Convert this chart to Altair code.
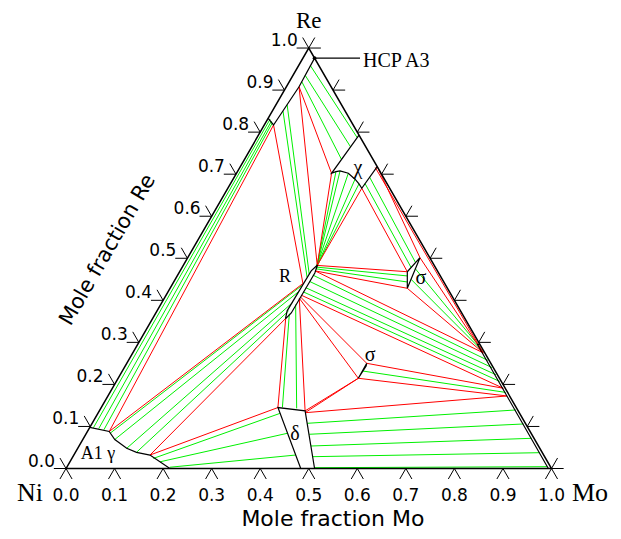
import altair as alt
import pandas as pd

# ---------------- data: mole fractions (Mo, Re) ----------------
axis_ticks = [0.0, 0.1, 0.2, 0.3, 0.4, 0.5, 0.6, 0.7, 0.8, 0.9, 1.0]
tick_text = ["0.0", "0.1", "0.2", "0.3", "0.4", "0.5", "0.6", "0.7", "0.8", "0.9", "1.0"]

triangle = [(0.0, 0.0), (1.0, 0.0), (0.0, 1.0), (0.0, 0.0)]

gamma_edge = [(0.0, 0.098), (0.045, 0.088), (0.066, 0.069), (0.101, 0.048),
              (0.126, 0.0385), (0.157, 0.032), (0.214, 0.0)]
hcp_edge = [(0.0, 0.833), (0.019, 0.817), (0.026, 0.908), (0.024, 0.976)]
r_phase = [(0.274, 0.356), (0.268, 0.375), (0.270, 0.470), (0.276, 0.484),
           (0.280, 0.465), (0.279, 0.370), (0.274, 0.356)]
chi_edge = [(0.207, 0.793), (0.196, 0.702), (0.203, 0.706), (0.2106, 0.7077),
            (0.2304, 0.7022), (0.2513, 0.688), (0.265, 0.677), (0.276, 0.6665),
            (0.282, 0.718)]
sigma_up = [(0.469, 0.468), (0.4887, 0.4286), (0.4784, 0.5014), (0.469, 0.468)]
sigma_low = [(0.4948, 0.2146), (0.4943, 0.2502), (0.4962, 0.244), (0.4948, 0.2146)]
delta_edge = [(0.4835, 0.0), (0.364, 0.145), (0.424, 0.137), (0.512, 0.0)]
bcc_edge = [(0.9935, 0.0), (0.700, 0.295), (0.705, 0.295)]
hcp_pointer = [(0.024, 0.976), (0.1176, 0.976)]

# three-phase triangle sides (Mo1, Re1, Mo2, Re2)
red_ties = [
    (0.045, 0.088, 0.019, 0.817), (0.019, 0.817, 0.268, 0.440), (0.045, 0.088, 0.268, 0.440),
    (0.157, 0.032, 0.274, 0.357), (0.157, 0.032, 0.364, 0.145), (0.274, 0.357, 0.364, 0.145),
    (0.278, 0.405, 0.424, 0.137), (0.424, 0.137, 0.4948, 0.2146), (0.278, 0.405, 0.4948, 0.2146),
    (0.279, 0.408, 0.4943, 0.2502), (0.279, 0.412, 0.8053, 0.1908), (0.4943, 0.2502, 0.8053, 0.1908),
    (0.4948, 0.2146, 0.822, 0.1725), (0.426, 0.1327, 0.822, 0.1725), (0.426, 0.1327, 0.4948, 0.2146),
    (0.278, 0.470, 0.722, 0.275), (0.278, 0.470, 0.4887, 0.4286), (0.276, 0.483, 0.469, 0.468),
    (0.4887, 0.4286, 0.722, 0.275), (0.276, 0.6665, 0.469, 0.468), (0.276, 0.6665, 0.276, 0.483),
    (0.196, 0.702, 0.276, 0.483), (0.026, 0.908, 0.196, 0.702), (0.026, 0.908, 0.276, 0.483),
    (0.282, 0.718, 0.4784, 0.5014), (0.4784, 0.5014, 0.722, 0.275), (0.279, 0.716, 0.720, 0.277),
]

# two-phase tie lines (Mo1, Re1, Mo2, Re2)
green_ties = [
    (0.008, 0.097, 0.005, 0.831), (0.020, 0.095, 0.010, 0.826), (0.032, 0.092, 0.014, 0.822),
    (0.049, 0.084, 0.268, 0.435), (0.066, 0.069, 0.2685, 0.420), (0.101, 0.048, 0.2695, 0.395),
    (0.126, 0.0385, 0.271, 0.375),
    (0.168, 0.024, 0.375, 0.131), (0.186, 0.016, 0.414, 0.0837), (0.2125, 0.003, 0.457, 0.032),
    (0.276, 0.368, 0.373, 0.1456), (0.278, 0.390, 0.4036, 0.143),
    (0.4433, 0.1075, 0.8566, 0.1392), (0.4604, 0.0814, 0.8893, 0.1059),
    (0.4778, 0.0535, 0.9229, 0.0718), (0.4941, 0.0281, 0.9565, 0.0376),
    (0.511, 0.0019, 0.9893, 0.0043),
    (0.4945, 0.232, 0.815, 0.181),
    (0.2785, 0.460, 0.7407, 0.257), (0.279, 0.445, 0.7574, 0.240),
    (0.279, 0.430, 0.7741, 0.223), (0.279, 0.420, 0.7899, 0.207),
    (0.2765, 0.479, 0.474, 0.458), (0.277, 0.475, 0.4812, 0.4436),
    (0.4857, 0.450, 0.716, 0.281), (0.4821, 0.475, 0.709, 0.288),
    (0.2769, 0.6779, 0.4713, 0.4786), (0.2784, 0.6934, 0.4749, 0.490),
    (0.203, 0.706, 0.2755, 0.4825), (0.2106, 0.7077, 0.276, 0.482),
    (0.2304, 0.7022, 0.276, 0.481), (0.2513, 0.688, 0.2765, 0.480),
    (0.265, 0.677, 0.2765, 0.479),
    (0.022, 0.850, 0.269, 0.455), (0.023, 0.865, 0.270, 0.462),
    (0.0257, 0.920, 0.200, 0.735), (0.0252, 0.935, 0.2036, 0.765),
    (0.0245, 0.958, 0.2063, 0.787),
]

# text labels (text, Mo, Re, font size)
serif_labels = [
    ("Ni", -0.045, -0.0583, 26), ("Mo", 1.1084, -0.0583, 26), ("Re", -0.0323, 1.0645, 23),
    ("R", 0.2233, 0.4555, 18), ("χ", 0.244, 0.7148, 20), ("σ", 0.5046, 0.4531, 20),
    ("σ", 0.4912, 0.270, 20), ("δ", 0.4307, 0.0821, 20), ("A1 γ", 0.0486, 0.0345, 18),
]
hcp_label = [("HCP A3", 0.127, 0.9693)]
title_mo = [("Mole fraction Mo", 0.6098, -0.1201)]
title_re = [("Mole fraction Re", -0.1734, 0.5197)]

# ---------------- build tables ----------------
TL = 0.025  # tick length in mole fraction units
rows = []


def add_poly(pid, pts, kind):
    for i, (m, r) in enumerate(pts):
        rows.append({"pid": pid, "ord": i, "Mo": m, "Re": r, "kind": kind})


add_poly("tri", triangle, "edge")
for name, pts in [("gamma", gamma_edge), ("hcp", hcp_edge), ("R", r_phase), ("chi", chi_edge),
                  ("sig1", sigma_up), ("sig2", sigma_low), ("delta", delta_edge),
                  ("bcc", bcc_edge), ("ptr", hcp_pointer)]:
    add_poly(name, pts, "black")
for i, (a, b, c, d) in enumerate(red_ties):
    add_poly(f"r{i}", [(a, b), (c, d)], "red")
for i, (a, b, c, d) in enumerate(green_ties):
    add_poly(f"g{i}", [(a, b), (c, d)], "green")
for v in axis_ticks:
    add_poly(f"tl{v}", [(-TL, v), (0.0, v), (-TL, v + TL)], "tick")
    add_poly(f"tb{v}", [(v, -TL), (v, 0.0), (v + TL, -TL)], "tick")
    add_poly(f"tr{v}", [(1 - v + TL, v), (1 - v, v), (1 - v, v + TL)], "tick")

lines = pd.DataFrame(rows)
ticks_df = pd.DataFrame({"v": axis_ticks, "lab": tick_text})
serif_df = pd.DataFrame(serif_labels, columns=["t", "Mo", "Re", "size"])
hcp_df = pd.DataFrame(hcp_label, columns=["t", "Mo", "Re"])
tmo_df = pd.DataFrame(title_mo, columns=["t", "Mo", "Re"])
tre_df = pd.DataFrame(title_re, columns=["t", "Mo", "Re"])
dot_df = pd.DataFrame({"Mo": [hcp_pointer[0][0]], "Re": [hcp_pointer[0][1]]})

# ---------------- scales (equal aspect, ternary -> cartesian) ----------------
W, H = 605, 523
PPU = 485.5
OX, OY = 58.0, 460.5
xs = alt.Scale(domain=[-OX / PPU, (W - OX) / PPU], nice=False, zero=False)
ys = alt.Scale(domain=[-(H - OY) / PPU, OY / PPU], nice=False, zero=False)

X = alt.X("x:Q", scale=xs, axis=None)
Y = alt.Y("y:Q", scale=ys, axis=None)


def tern(data):
    return alt.Chart(data).transform_calculate(
        x="datum.Mo + datum.Re / 2", y="datum.Re * sqrt(3) / 2"
    )


def line_layer(kind, color, width):
    return tern(lines).transform_filter(alt.datum.kind == kind).mark_line(
        color=color, strokeWidth=width
    ).encode(x=X, y=Y, detail="pid:N", order="ord:Q")


green_l = line_layer("green", "#00f000", 1.0)
red_l = line_layer("red", "#ff0000", 1.0)
black_l = line_layer("black", "#000000", 1.2)
edge_l = line_layer("edge", "#000000", 1.5)
tick_l = line_layer("tick", "#000000", 1.0)

dot = tern(dot_df).mark_point(filled=True, color="black", size=14, opacity=1).encode(x=X, y=Y)

bottom_lab = alt.Chart(ticks_df).transform_calculate(x="datum.v", y="0").mark_text(
    font="DejaVu Sans", fontSize=17, align="center", baseline="middle", dy=27
).encode(x=X, y=Y, text="lab:N")
left_lab = alt.Chart(ticks_df).transform_calculate(
    x="datum.v / 2", y="datum.v * sqrt(3) / 2"
).mark_text(
    font="DejaVu Sans", fontSize=17, align="right", baseline="middle", dx=-11, dy=-7
).encode(x=X, y=Y, text="lab:N")

serif_t = tern(serif_df).mark_text(font="Liberation Serif", align="center", baseline="middle").encode(
    x=X, y=Y, text="t:N", size=alt.Size("size:Q", scale=None)
)
hcp_t = tern(hcp_df).mark_text(font="Liberation Serif", fontSize=20, align="left", baseline="middle").encode(
    x=X, y=Y, text="t:N"
)
tmo_t = tern(tmo_df).mark_text(font="DejaVu Sans", fontSize=22, align="center", baseline="middle").encode(
    x=X, y=Y, text="t:N"
)
tre_t = tern(tre_df).mark_text(font="DejaVu Sans", fontSize=21, align="center", baseline="middle",
                               angle=300).encode(x=X, y=Y, text="t:N")

chart = alt.layer(
    green_l, red_l, black_l, edge_l, tick_l, dot,
    bottom_lab, left_lab, serif_t, hcp_t, tmo_t, tre_t
).properties(
    width=W, height=H, padding=0, autosize=alt.AutoSizeParams(type="none")
).configure_view(stroke=None)

chart.save("out.html", embed_options={"renderer": "svg", "actions": False})
